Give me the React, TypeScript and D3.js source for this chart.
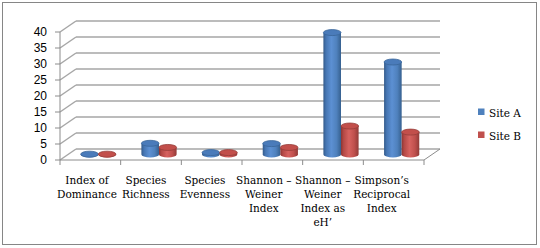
import React from "react";
import * as d3 from "d3";

const categories = [
  "Index of Dominance",
  "Species Richness",
  "Species Evenness",
  "Shannon – Weiner Index",
  "Shannon – Weiner Index as eH’",
  "Simpson’s Reciprocal Index",
];
const categoryLines = [
  ["Index of", "Dominance"],
  ["Species", "Richness"],
  ["Species", "Evenness"],
  ["Shannon –", "Weiner", "Index"],
  ["Shannon –", "Weiner", "Index as", "eH’"],
  ["Simpson’s", "Reciprocal", "Index"],
];
const seriesNames = ["Site A", "Site B"];
const siteA = [0.1, 3.5, 0.6, 3.4, 38.1, 28.9];
const siteB = [0.1, 2.2, 0.6, 2.2, 8.9, 7.0];
const yTicks = [0, 5, 10, 15, 20, 25, 30, 35, 40];

const W = 540;
const H = 248;
const left = 60;
const right = 424;
const floorY = 160;
const topY = 32;
const depthX = 16;
const depthY = -11;
const SERIF = "DejaVu Serif";
const SANS = "Liberation Sans";

export default function App() {
  const x0 = d3.scaleBand<string>().domain(categories).range([left, right]);
  const y = d3.scaleLinear().domain([0, 40]).range([floorY, topY]);
  const bw = x0.bandwidth();
  const barW = 17.6;
  const x1 = d3
    .scaleBand<string>()
    .domain(seriesNames)
    .range([bw / 2 - barW, bw / 2 + barW]);
  const labelX = d3
    .scalePoint<string>()
    .domain(categories)
    .range([87, 381.7]);
  const color = d3
    .scaleOrdinal<string, string>()
    .domain(seriesNames)
    .range(["#4f81bd", "#c0504d"]);
  const data = [siteA, siteB];
  const midDX = depthX / 2;
  const midDY = depthY / 2;
  const ry = 3;

  const bars: React.ReactNode[] = [];
  categories.forEach((c, ci) => {
    seriesNames.forEach((s, si) => {
      const v = data[si][ci];
      const cx = (x0(c) as number) + (x1(s) as number) + x1.bandwidth() / 2 + midDX;
      const rx = x1.bandwidth() / 2;
      const yb = y(0) + midDY;
      const yt = y(v) + midDY;
      const body = `M${cx - rx},${yt} L${cx - rx},${yb} A${rx},${ry} 0 0 0 ${cx + rx},${yb} L${cx + rx},${yt} Z`;
      const id = si === 0 ? "gA" : "gB";
      bars.push(
        <g key={`${ci}-${si}`}>
          <path d={body} fill={`url(#${id})`} />
          <ellipse
            cx={cx}
            cy={yt}
            rx={rx}
            ry={ry}
            fill={si === 0 ? "#4a7bba" : "#c24f4b"}
            stroke={si === 0 ? "#3a6699" : "#953d3a"}
            strokeWidth={0.8}
          />
        </g>
      );
    });
  });

  return (
    <svg
      width={W}
      height={H}
      style={{ position: "absolute", left: 0, top: 0 }}
    >
      <defs>
        <linearGradient id="gA" x1="0" x2="1" y1="0" y2="0">
          <stop offset="0" stopColor="#335a8a" />
          <stop offset="0.15" stopColor="#4676b3" />
          <stop offset="0.45" stopColor="#5c90d3" />
          <stop offset="0.75" stopColor="#4f81bd" />
          <stop offset="1" stopColor="#36608f" />
        </linearGradient>
        <linearGradient id="gB" x1="0" x2="1" y1="0" y2="0">
          <stop offset="0" stopColor="#8c3633" />
          <stop offset="0.15" stopColor="#b54946" />
          <stop offset="0.45" stopColor="#d6625f" />
          <stop offset="0.75" stopColor="#c0504d" />
          <stop offset="1" stopColor="#913b38" />
        </linearGradient>
      </defs>
      <rect x={2.5} y={2.5} width={534} height={242} fill="#fff" stroke="#868686" strokeWidth={1} />
      {yTicks.map((t) => (
        <g key={t} stroke="#a6a6a6" strokeWidth={1.5} fill="none">
          <line x1={left + depthX} x2={right + depthX} y1={y(t) + depthY} y2={y(t) + depthY} />
          <line x1={left} x2={left + depthX} y1={y(t)} y2={y(t) + depthY} />
        </g>
      ))}
      <line x1={right} y1={floorY} x2={right + depthX} y2={floorY + depthY} stroke="#8c8c8c" strokeWidth={1} />
      <line x1={left} x2={left} y1={y(40)} y2={y(0)} stroke="#8c8c8c" strokeWidth={1} />
      {yTicks.map((t) => (
        <g key={`yt${t}`}>
          <line x1={left - 5} x2={left} y1={y(t)} y2={y(t)} stroke="#8c8c8c" strokeWidth={1} />
          <text
            x={47}
            y={y(t)}
            dy="0.35em"
            textAnchor="end"
            fontFamily={SANS}
            fontSize={12}
            fill="#000"
          >
            {t}
          </text>
        </g>
      ))}
      <line x1={left} x2={right} y1={floorY} y2={floorY} stroke="#8c8c8c" strokeWidth={1} />
      {categories.map((c) => (
        <line key={`xt${c}`} x1={x0(c)} x2={x0(c)} y1={floorY} y2={floorY + 5} stroke="#8c8c8c" strokeWidth={1} />
      ))}
      <line x1={right} x2={right} y1={floorY} y2={floorY + 5} stroke="#8c8c8c" strokeWidth={1} />
      {bars}
      {categories.map((c, ci) => (
        <text
          key={`lbl${c}`}
          x={labelX(c)}
          y={183.5}
          textAnchor="middle"
          fontFamily={SERIF}
          fontSize={10.5}
          fill="#000"
        >
          {categoryLines[ci].map((ln, li) => (
            <tspan key={li} x={labelX(c)} dy={li === 0 ? 0 : 14}>
              {ln}
            </tspan>
          ))}
        </text>
      ))}
      {seriesNames.map((s, i) => (
        <g key={`lg${s}`}>
          <rect x={478} y={108.5 + i * 23} width={6.5} height={6.5} fill={color(s)} />
          <text
            x={489}
            y={117 + i * 23}
            fontFamily={SERIF}
            fontSize={10.5}
            fill="#000"
          >
            {s}
          </text>
        </g>
      ))}
    </svg>
  );
}
